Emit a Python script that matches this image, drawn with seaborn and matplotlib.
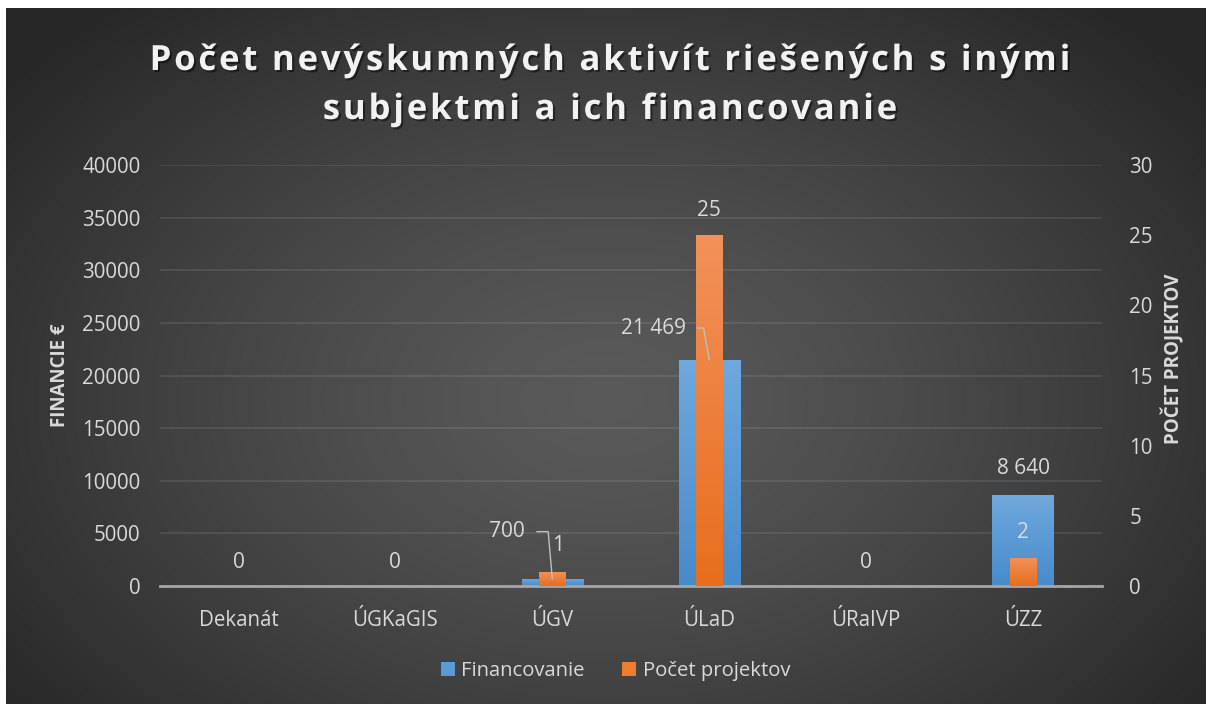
"""Grouped overlay bar chart: non-research activities and their funding."""

import matplotlib
matplotlib.use("Agg")
import matplotlib.pyplot as plt
import matplotlib.patheffects as pe
from matplotlib.colors import LinearSegmentedColormap
from matplotlib.lines import Line2D
import numpy as np
import seaborn as sns

# Data
categories = ["Dekanát", "ÚGKaGIS", "ÚGV", "ÚLaD", "ÚRaIVP", "ÚZZ"]
financovanie = [0, 0, 700, 21469, 0, 8640]
pocet_projektov = [0, 0, 1, 25, 0, 2]

title_lines = ["Počet nevýskumných aktivít riešených s inými",
               "subjektmi a ich financovanie"]

BLUE = "#5b9bd5"
ORANGE = "#f07d2a"
TXT = "#d9d9d9"
FONT = "Open Sans"

sns.set_theme(style="white")
plt.rcParams["font.family"] = [FONT, "DejaVu Sans"]

W, H, DPI = 1206, 704, 100
fig = plt.figure(figsize=(W / DPI, H / DPI), dpi=DPI, facecolor="white")

# Radial dark-grey background (white strip at top and left as in the source)
ax_bg = fig.add_axes([6 / W, 0, 1200 / W, 696 / H], zorder=-10)
yy, xx = np.mgrid[0:696, 0:1200]
r = np.sqrt(((xx - 600) / 760.0) ** 2 + ((yy - 390) / 520.0) ** 2)
shade = (0x5a - (0x5a - 0x27) * np.clip(r, 0, 1) ** 1.3) / 255.0
ax_bg.imshow(np.dstack([shade] * 3), aspect="auto", interpolation="bilinear")
ax_bg.set_axis_off()

# Main axes
ax = fig.add_axes([160 / W, (H - 586) / H, (1101.5 - 160) / W, (586 - 165) / H])
ax.patch.set_visible(False)
sns.barplot(x=categories, y=financovanie, ax=ax, color=BLUE, width=0.39,
            saturation=1, linewidth=0, edgecolor="none", zorder=2)
ax.set_ylim(0, 40000)
ax.set_yticks(np.arange(0, 40001, 5000))
ax.set_xlim(-0.5, len(categories) - 0.5)
ax.grid(axis="y", color="#ffffff", alpha=0.1, lw=1.2, zorder=0)
ax.set_axisbelow(True)

ax2 = ax.twinx()
ax2.patch.set_visible(False)
sns.barplot(x=categories, y=pocet_projektov, ax=ax2, color=ORANGE, width=0.17,
            saturation=1, linewidth=0, edgecolor="none", zorder=3)
ax2.set_ylim(0, 30)
ax2.set_yticks(np.arange(0, 31, 5))
ax2.set_xlim(-0.5, len(categories) - 0.5)


def gradient_fill(a, top, bottom):
    """Paint each bar with a vertical light-to-dark gradient (Office style)."""
    cmap = LinearSegmentedColormap.from_list("g", [bottom, top])
    grad = np.linspace(0, 1, 64).reshape(-1, 1)
    for bar in list(a.patches):
        h = bar.get_height()
        if h <= 0:
            continue
        x0, w = bar.get_x(), bar.get_width()
        im = a.imshow(grad, cmap=cmap, aspect="auto", origin="lower",
                      extent=[x0, x0 + w, 0, h], zorder=bar.get_zorder() + 0.1,
                      interpolation="bilinear")
        im.set_clip_path(bar)


gradient_fill(ax, "#6fa8dd", "#478bcb")
gradient_fill(ax2, "#f3915a", "#e76e1d")
ax.set_xlim(-0.5, len(categories) - 0.5)
ax.set_ylim(0, 40000)
ax2.set_ylim(0, 30)

for a in (ax, ax2):
    if a.get_legend() is not None:
        a.get_legend().remove()
    for side in ("top", "left", "right", "bottom"):
        a.spines[side].set_visible(False)
    a.tick_params(axis="both", length=0, colors=TXT, labelsize=14.8)
    a.set_xlabel("")
ax.spines["bottom"].set_visible(True)
ax.spines["bottom"].set_color("#a6a6a6")
ax.spines["bottom"].set_linewidth(2)
ax.spines["bottom"].set_zorder(6)
ax.tick_params(axis="y", pad=14)
ax.tick_params(axis="x", pad=17)
ax2.tick_params(axis="y", pad=20)

ax.set_ylabel("FINANCIE €", color=TXT, fontsize=13.5, fontweight="bold", labelpad=9)
ax2.set_ylabel("POČET PROJEKTOV", color=TXT, fontsize=13.5, fontweight="bold")
ax2.yaxis.set_label_coords(1.064, 0.54)

# Data labels (offsets in pixels, leader lines where Excel moved the label)
def fmt(v):
    return f"{v:,}".replace(",", " ")

fin_offsets = {2: (-45, 47, 95), 3: (-56, 32, 100), 5: (0, 27, None)}
cnt_offsets = {2: (6, 26), 3: (0, 25), 5: (0, 25)}

for i, v in enumerate(financovanie):
    if v == 0:
        continue
    dx, dy, angle = fin_offsets[i]
    kw = {}
    if angle is not None:
        kw["arrowprops"] = dict(arrowstyle="-", color="#bfbfbf", lw=1,
                                relpos=(1, 0.5), shrinkA=6, shrinkB=0,
                                connectionstyle=f"angle,angleA=0,angleB={angle},rad=0")
    # drawn on the top axes so leaders sit over the orange bars
    ax2.annotate(fmt(v), xy=(i, v), xycoords=ax.transData, xytext=(dx, dy),
                 textcoords="offset pixels", ha="center", va="center",
                 color=TXT, fontsize=15, zorder=5, **kw)

for i, v in enumerate(pocet_projektov):
    dx, dy = cnt_offsets.get(i, (0, 23))
    ax2.annotate(fmt(v), xy=(i, v), xytext=(dx, dy), textcoords="offset pixels",
                 ha="center", va="center", color=TXT, fontsize=15, zorder=5)

# Legend with square markers
handles = [Line2D([], [], marker="s", linestyle="none", markersize=10,
                  markerfacecolor=c, markeredgewidth=0) for c in (BLUE, ORANGE)]
leg = fig.legend(handles, ["Financovanie", "Počet projektov"], loc="center",
                 bbox_to_anchor=(616 / W, (H - 671) / H), ncol=2, frameon=False,
                 fontsize=14.6, handlelength=0.6, handletextpad=0.35, columnspacing=1.9)
for t in leg.get_texts():
    t.set_color(TXT)

# Title with letter spacing, drawn char by char
renderer = fig.canvas.get_renderer()
shadow = [pe.withSimplePatchShadow(offset=(1.5, -1.5), shadow_rgbFace="black", alpha=0.45)]


def text_width(s, **kw):
    t = fig.text(0, 0, s, **kw)
    w = t.get_window_extent(renderer=renderer).width
    t.remove()
    return w


def spaced_title(s, cx, cy, spacing, **kw):
    space_w = text_width("a a", **kw) - text_width("aa", **kw)
    widths = [space_w if ch == " " else text_width(ch, **kw) for ch in s]
    total = sum(widths) + spacing * (len(s) - 1)
    x = cx - total / 2
    for ch, w in zip(s, widths):
        if ch != " ":
            fig.text(x / W, cy / H, ch, ha="left", va="baseline",
                     path_effects=shadow, **kw)
        x += w + spacing


title_kw = dict(fontsize=25, fontweight="bold", color="#f2f2f2", family=[FONT, "DejaVu Sans"])
spaced_title(title_lines[0], 610, H - 70, 2.8, **title_kw)
spaced_title(title_lines[1], 610, H - 119, 2.8, **title_kw)

fig.savefig("out.png", dpi=DPI)
plt.close(fig)
